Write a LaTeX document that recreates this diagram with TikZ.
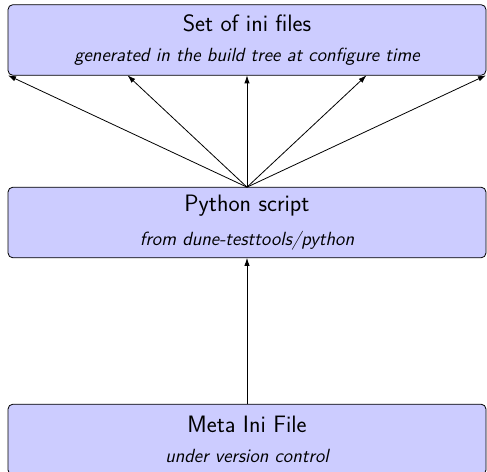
\documentclass[tikz,border=0pt]{standalone}
\usepackage{tikz}
\usetikzlibrary{arrows,arrows.meta,positioning,calc}
\tikzset{
	stage/.style={draw, rounded corners=1.3mm, fill=blue!20, outer sep=0,
		minimum width=358.5pt, minimum height=53pt, align=center, font=\sffamily},
}
\newcommand{\stagetext}[2]{{\fontsize{17.8}{20}\selectfont #1}\\[10pt]{\fontsize{14.3}{16}\selectfont\itshape #2}}

\begin{document}
\begin{tikzpicture}[-{Latex[length=6pt,width=4pt]}, semithick, x=0.75pt, y=-0.75pt]
	\useasboundingbox (0,0) rectangle (487,472);
	\node[stage] (ini) at (247,40) {\stagetext{Set of ini files}{generated in the build tree at configure time}};
	\node[stage] (py) at (247,222.5) {\stagetext{Python script}{from dune-testtools/python}};
	\node[stage] (meta) at (247,439.5) {\stagetext{Meta Ini File}{under version control}};
	
	\path (ini.south west) -- (ini.south east) coordinate[pos=0.25] (inia) coordinate[pos=0.75] (inib);
	
	\draw (meta.north) -- (py.south);
	\draw (py.north) -- (ini.south west);
	\draw (py.north) -- (inia);
	\draw (py.north) -- (ini.south);
	\draw (py.north) -- (inib);
	\draw (py.north) -- (ini.south east);
\end{tikzpicture}
\end{document}
